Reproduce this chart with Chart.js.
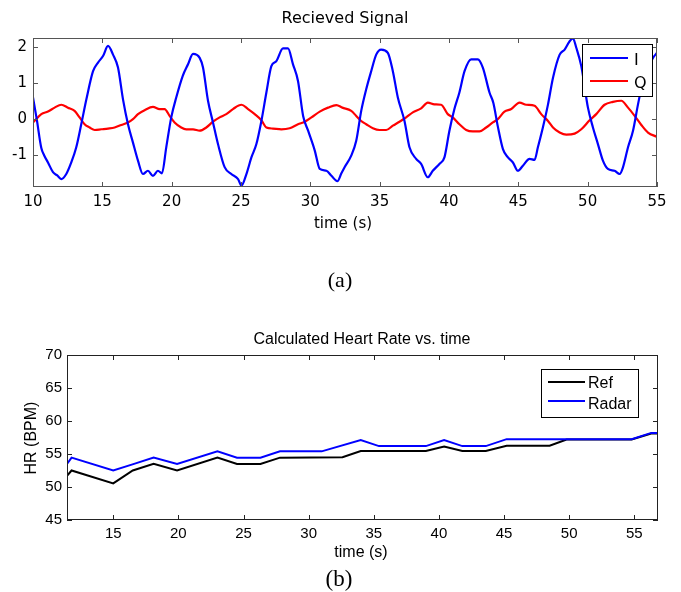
<!DOCTYPE html>
<html>
<head>
<meta charset="utf-8">
<script src="https://cdn.jsdelivr.net/npm/chart.js@4.4.1/dist/chart.umd.min.js"></script>
<style>
  html, body { margin: 0; padding: 0; background: #fff; }
  body { width: 681px; height: 592px; position: relative; overflow: hidden; }
  .panel { position: absolute; left: 0; width: 681px; }
  #panelA { top: 0; height: 300px; }
  #panelB { top: 300px; height: 292px; }
</style>
</head>
<body>
<div class="panel" id="panelA"><canvas id="signalChart"></canvas></div>
<div class="panel" id="panelB"><canvas id="hrChart"></canvas></div>
<script>
// (a) received signal
const iTime = [
    10.0, 10.27, 10.6, 10.8, 11.08, 11.44, 11.75, 12.04, 12.4, 12.76,
    13.12, 13.48, 13.85, 14.33, 14.69, 15.05, 15.41, 15.77, 16.13, 16.49,
    16.85, 17.21, 17.57, 17.93, 18.29, 18.65, 19.01, 19.3, 19.61, 19.97,
    20.33, 20.8, 21.18, 21.54, 22.02, 22.26, 22.62, 22.98, 23.34, 23.82,
    24.3, 24.79, 25.03, 25.39, 25.75, 26.11, 26.47, 26.83, 27.19, 27.55,
    28.03, 28.39, 28.75, 29.11, 29.48, 29.84, 30.32, 30.68, 31.16, 31.52,
    31.95, 32.24, 32.47, 32.95, 33.31, 33.67, 34.03, 34.39, 34.75, 35.11,
    35.59, 35.95, 36.31, 36.79, 37.15, 37.63, 37.99, 38.47, 38.83, 39.31,
    39.67, 40.03, 40.39, 40.75, 41.12, 41.6, 42.08, 42.44, 42.92, 43.2,
    43.52, 43.89, 44.25, 44.61, 44.97, 45.33, 45.81, 46.17, 46.41, 46.77,
    47.14, 47.5, 47.98, 48.34, 48.7, 48.94, 49.18, 49.54, 50.02, 50.38,
    50.74, 51.1, 51.46, 51.94, 52.31, 52.55, 52.91, 53.27, 53.63, 53.99,
    54.35, 54.71, 55.0
];
const iValues = [
    0.6, 0.0, -0.8, -1.0, -1.2, -1.47, -1.56, -1.66, -1.52, -1.2,
    -0.78, -0.14, 0.55, 1.33, 1.57, 1.75, 2.03, 1.79, 1.43, 0.55,
    -0.14, -0.65, -1.15, -1.52, -1.43, -1.57, -1.43, -1.5, -0.78, 0.05,
    0.6, 1.2, 1.52, 1.81, 1.7, 1.43, 0.51, -0.09, -0.69, -1.33,
    -1.52, -1.66, -1.84, -1.52, -1.06, -0.69, -0.05, 0.74, 1.47, 1.61,
    1.96, 1.96, 1.52, 1.06, 0.09, -0.32, -0.87, -1.38, -1.43, -1.57,
    -1.72, -1.5, -1.33, -1.01, -0.6, 0.23, 0.83, 1.33, 1.79, 1.93,
    1.84, 1.33, 0.6, -0.05, -0.78, -1.1, -1.24, -1.61, -1.43, -1.24,
    -1.06, -0.32, 0.28, 0.74, 1.33, 1.66, 1.66, 1.43, 0.74, 0.45,
    -0.2, -0.83, -1.06, -1.2, -1.43, -1.29, -1.1, -1.13, -0.78, -0.23,
    0.41, 1.15, 1.79, 1.93, 2.16, 2.24, 1.98, 1.47, 0.32, -0.23,
    -0.69, -1.15, -1.38, -1.43, -1.52, -1.33, -0.78, -0.32, 0.41, 1.06,
    1.43, 1.7, 1.84
];
const qTime = [
    10.0, 10.6, 11.08, 11.56, 12.04, 12.52, 13.0, 13.36, 13.72, 14.08,
    14.45, 14.93, 15.41, 15.89, 16.37, 16.85, 17.21, 17.57, 18.05, 18.65,
    19.13, 19.49, 19.85, 20.21, 20.69, 21.05, 21.54, 22.02, 22.5, 22.98,
    23.46, 23.94, 24.42, 25.03, 25.51, 25.99, 26.47, 26.83, 27.31, 27.91,
    28.51, 29.11, 29.6, 30.08, 30.68, 31.28, 31.88, 32.31, 32.95, 33.31,
    33.67, 34.03, 34.51, 34.99, 35.47, 35.95, 36.43, 36.91, 37.39, 37.99,
    38.47, 38.95, 39.43, 39.91, 40.27, 40.75, 41.24, 41.72, 42.2, 42.68,
    43.16, 43.52, 44.0, 44.49, 45.09, 45.57, 46.17, 46.65, 47.14, 47.5,
    47.98, 48.46, 49.06, 49.54, 50.14, 50.62, 51.22, 51.82, 52.43, 52.91,
    53.39, 53.87, 54.35, 55.0
];
const qValues = [
    -0.09, 0.14, 0.21, 0.32, 0.4, 0.32, 0.23, 0.05, -0.14, -0.23,
    -0.3, -0.28, -0.26, -0.23, -0.16, -0.09, 0.0, 0.14, 0.25, 0.34,
    0.28, 0.28, 0.09, -0.09, -0.23, -0.28, -0.28, -0.32, -0.23, -0.07,
    0.05, 0.14, 0.28, 0.4, 0.28, 0.14, -0.03, -0.23, -0.26, -0.28,
    -0.25, -0.14, -0.07, 0.05, 0.21, 0.32, 0.39, 0.32, 0.23, 0.09,
    -0.05, -0.14, -0.25, -0.3, -0.3, -0.18, -0.07, 0.05, 0.19, 0.3,
    0.46, 0.41, 0.4, 0.14, 0.05, -0.14, -0.3, -0.34, -0.34, -0.23,
    -0.09, 0.0, 0.21, 0.28, 0.46, 0.4, 0.37, 0.14, -0.05, -0.23,
    -0.37, -0.43, -0.4, -0.28, -0.03, 0.14, 0.4, 0.48, 0.51, 0.32,
    0.09, -0.16, -0.37, -0.49
];
const signalXTicks = [10, 15, 20, 25, 30, 35, 40, 45, 50, 55];
const signalYTicks = [-1, 0, 1, 2];

// (b) heart rate
const refTime = [11.45, 11.8, 15.0, 16.5, 18.1, 19.9, 23.0, 24.5, 26.3, 27.8, 32.6,
    34.0, 39.0, 40.4, 41.8, 43.6, 45.2, 48.5, 49.8, 54.8, 56.3, 56.82];
const refHR = [51.7, 52.5, 50.55, 52.5, 53.5, 52.5, 54.45, 53.5, 53.5, 54.45, 54.5,
    55.45, 55.45, 56.15, 55.45, 55.45, 56.25, 56.25, 57.2, 57.2, 58.1, 58.1];
const radarTime = [11.45, 11.8, 15.0, 16.6, 18.1, 19.9, 23.0, 24.5, 26.3, 27.8, 31.0,
    34.0, 35.4, 39.0, 40.4, 41.8, 43.6, 45.2, 54.8, 56.3, 56.82];
const radarHR = [53.5, 54.45, 52.5, 53.5, 54.45, 53.5, 55.4, 54.45, 54.45, 55.4, 55.4,
    57.1, 56.2, 56.2, 57.1, 56.2, 56.2, 57.25, 57.25, 58.2, 58.2];
const hrXTicks = [15, 20, 25, 30, 35, 40, 45, 50, 55];
const hrYTicks = [45, 50, 55, 60, 65, 70];

const toPoints = (xs, ys) => xs.map((x, k) => ({ x: x, y: ys[k] }));

// matlab style frame: box, inward ticks, legend box and texts
const matlabFrame = {
    id: 'matlabFrame',
    afterDatasetsDraw(chart, args, opts) {
        const ctx = chart.ctx;
        const a = chart.chartArea;
        const sx = chart.scales.x, sy = chart.scales.y;
        ctx.save();
        ctx.strokeStyle = opts.frameColor;
        ctx.lineWidth = 1;
        ctx.beginPath();
        sx.ticks.forEach(t => {
            const px = Math.round(sx.getPixelForValue(t.value)) + 0.5;
            ctx.moveTo(px, a.bottom); ctx.lineTo(px, a.bottom - opts.tickLen);
            ctx.moveTo(px, a.top); ctx.lineTo(px, a.top + opts.tickLen);
        });
        sy.ticks.forEach(t => {
            const py = Math.round(sy.getPixelForValue(t.value)) + 0.5;
            ctx.moveTo(a.left, py); ctx.lineTo(a.left + opts.tickLen, py);
            ctx.moveTo(a.right, py); ctx.lineTo(a.right - opts.tickLen, py);
        });
        ctx.stroke();
        ctx.strokeRect(Math.round(a.left) + 0.5, Math.round(a.top) + 0.5,
            Math.round(a.right - a.left) - 1, Math.round(a.bottom - a.top) - 1);

        // legend
        const lg = opts.legend;
        ctx.fillStyle = '#fff';
        ctx.fillRect(lg.x, lg.y, lg.w, lg.h);
        ctx.strokeStyle = '#000';
        ctx.strokeRect(lg.x + 0.5, lg.y + 0.5, lg.w, lg.h);
        ctx.font = lg.font;
        ctx.textBaseline = 'alphabetic';
        ctx.textAlign = 'left';
        chart.data.datasets.forEach((ds, k) => {
            ctx.strokeStyle = ds.borderColor;
            ctx.lineWidth = 2;
            ctx.beginPath();
            ctx.moveTo(lg.lineX0, lg.rowY[k]);
            ctx.lineTo(lg.lineX1, lg.rowY[k]);
            ctx.stroke();
            ctx.fillStyle = '#000';
            ctx.fillText(ds.label, lg.textX, lg.textY[k]);
        });

        // titles and labels
        opts.texts.forEach(t => {
            ctx.save();
            ctx.font = t.font;
            ctx.fillStyle = '#000';
            ctx.textAlign = 'center';
            ctx.textBaseline = t.baseline || 'alphabetic';
            ctx.translate(t.x, t.y);
            if (t.rotate) ctx.rotate(t.rotate);
            ctx.fillText(t.text, 0, 0);
            ctx.restore();
        });
        ctx.restore();
    }
};

document.addEventListener('DOMContentLoaded', () => {
    // Chart (a) - Recieved Signal
    const ctxA = document.getElementById('signalChart').getContext('2d');
    new Chart(ctxA, {
        type: 'line',
        data: {
            datasets: [{
                label: 'I',
                data: toPoints(iTime, iValues),
                borderColor: '#0000ff',
                borderWidth: 2.2,
                pointRadius: 0,
                cubicInterpolationMode: 'monotone'
            }, {
                label: 'Q',
                data: toPoints(qTime, qValues),
                borderColor: '#ff0000',
                borderWidth: 2.2,
                pointRadius: 0,
                cubicInterpolationMode: 'monotone'
            }]
        },
        options: {
            responsive: true,
            maintainAspectRatio: false,
            animation: false,
            layout: { padding: { top: 38, right: 24, left: 0, bottom: 0 } },
            plugins: {
                legend: { display: false },
                tooltip: { enabled: false },
                matlabFrame: {
                    frameColor: '#555',
                    tickLen: 5,
                    legend: {
                        x: 582, y: 44, w: 70, h: 52,
                        lineX0: 590, lineX1: 628, textX: 634,
                        rowY: [58, 81], textY: [65, 88],
                        font: '16px "DejaVu Sans"'
                    },
                    texts: [
                        { text: 'Recieved Signal', x: 345, y: 23, font: '16px "DejaVu Sans"' },
                        { text: 'time (s)', x: 343, y: 228, font: '15px "DejaVu Sans"' },
                        { text: '(a)', x: 340, y: 287, font: '22px "Liberation Serif"' }
                    ]
                }
            },
            scales: {
                x: {
                    type: 'linear',
                    min: 10,
                    max: 55,
                    grid: { display: false, drawTicks: false },
                    border: { display: false },
                    afterBuildTicks: s => { s.ticks = signalXTicks.map(v => ({ value: v })); },
                    afterFit: s => { s.height = 113; },
                    ticks: {
                        color: '#000',
                        padding: 6,
                        maxRotation: 0,
                        autoSkip: false,
                        font: { family: 'DejaVu Sans', size: 15 }
                    }
                },
                y: {
                    min: -1.88,
                    max: 2.25,
                    grid: { display: false, drawTicks: false },
                    border: { display: false },
                    afterBuildTicks: s => { s.ticks = signalYTicks.map(v => ({ value: v })); },
                    afterFit: s => { s.width = 33; },
                    ticks: {
                        color: '#000',
                        padding: 6,
                        font: { family: 'DejaVu Sans', size: 15 }
                    }
                }
            }
        },
        plugins: [matlabFrame]
    });

    // Chart (b) - Calculated Heart Rate vs. time
    const ctxB = document.getElementById('hrChart').getContext('2d');
    new Chart(ctxB, {
        type: 'line',
        data: {
            datasets: [{
                label: 'Ref',
                data: toPoints(refTime, refHR),
                borderColor: '#000000',
                borderWidth: 2,
                pointRadius: 0,
                tension: 0,
                order: 2
            }, {
                label: 'Radar',
                data: toPoints(radarTime, radarHR),
                borderColor: '#0000ff',
                borderWidth: 2,
                pointRadius: 0,
                tension: 0,
                order: 1
            }]
        },
        options: {
            responsive: true,
            maintainAspectRatio: false,
            animation: false,
            layout: { padding: { top: 55, right: 23, left: 0, bottom: 0 } },
            plugins: {
                legend: { display: false },
                tooltip: { enabled: false },
                matlabFrame: {
                    frameColor: '#222',
                    tickLen: 5,
                    legend: {
                        x: 541, y: 69, w: 97, h: 48,
                        lineX0: 548, lineX1: 585, textX: 588,
                        rowY: [82, 101], textY: [88, 109],
                        font: '16px "Liberation Sans"'
                    },
                    texts: [
                        { text: 'Calculated Heart Rate vs. time', x: 362, y: 44, font: '16px "Liberation Sans"' },
                        { text: 'time (s)', x: 361, y: 257, font: '16px "Liberation Sans"' },
                        { text: 'HR (BPM)', x: 36, y: 138, font: '16px "Liberation Sans"', rotate: -Math.PI / 2 },
                        { text: '(b)', x: 339, y: 286, font: '23px "Liberation Serif"' }
                    ]
                }
            },
            scales: {
                x: {
                    type: 'linear',
                    min: 11.45,
                    max: 56.82,
                    grid: { display: false, drawTicks: false },
                    border: { display: false },
                    afterBuildTicks: s => { s.ticks = hrXTicks.map(v => ({ value: v })); },
                    afterFit: s => { s.height = 72; },
                    ticks: {
                        color: '#000',
                        padding: 5,
                        maxRotation: 0,
                        autoSkip: false,
                        font: { family: 'Liberation Sans', size: 15 }
                    }
                },
                y: {
                    min: 45,
                    max: 70,
                    grid: { display: false, drawTicks: false },
                    border: { display: false },
                    afterBuildTicks: s => { s.ticks = hrYTicks.map(v => ({ value: v })); },
                    afterFit: s => { s.width = 67; },
                    ticks: {
                        color: '#000',
                        padding: 5,
                        font: { family: 'Liberation Sans', size: 15 }
                    }
                }
            }
        },
        plugins: [matlabFrame]
    });
});
</script>
</body>
</html>
